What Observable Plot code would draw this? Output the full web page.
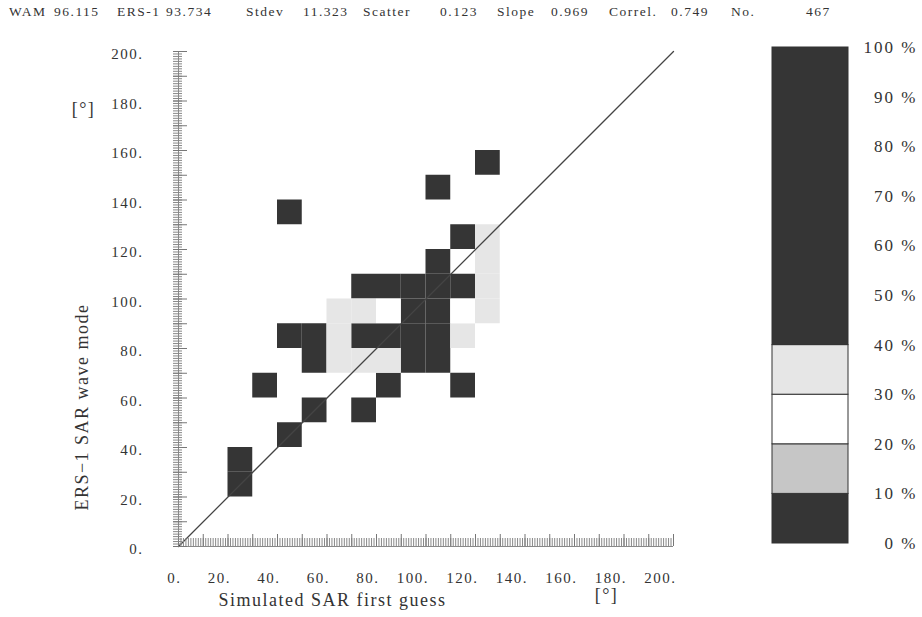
<!DOCTYPE html>
<html>
<head>
<meta charset="utf-8">
<script src="https://cdn.jsdelivr.net/npm/d3@7"></script>
<script src="https://cdn.jsdelivr.net/npm/@observablehq/plot@0.6"></script>
<style>
  body { margin: 0; background: #fff; }
  #fig { position: relative; width: 922px; height: 617px; overflow: hidden; font-family: "Liberation Serif", serif; color: #333; }
  #stats { position: absolute; top: 4px; left: 0; width: 922px; height: 20px; font-size: 13.5px; letter-spacing: 1.5px; }
  #stats span { position: absolute; top: 0; white-space: pre; }
  #main { position: absolute; left: 0; top: 0; }
  #legend { position: absolute; left: 760px; top: 0; }
</style>
</head>
<body>
<div id="fig">
  <div id="main"></div>
  <div id="legend"></div>
  <div id="stats"></div>
</div>
<script>
// Summary statistics printed above the scatter diagram
const statLabels = ["WAM", "ERS-1", "Stdev", "Scatter", "Slope", "Correl.", "No."];
const statValues = ["96.115", "93.734", "11.323", "0.123", "0.969", "0.749", "467"];

// 10°×10° bins: lower-left corner of each bin and its share of the peak count (%)
const cellX   = [20, 20, 40, 50, 30, 40, 50, 50, 70, 80, 110,
                 70, 80, 90, 100, 110, 70, 80, 90, 100, 90, 100, 90, 100, 100,
                 40, 100, 120, 110,
                 60, 60, 60, 70, 70, 80, 110, 120, 120, 120, 120, 80, 110];
const cellY   = [20, 30, 40, 50, 60, 80, 80, 70, 50, 60, 60,
                 100, 100, 100, 100, 100, 80, 80, 70, 70, 80, 80, 90, 90, 110,
                 130, 140, 150, 120,
                 70, 80, 90, 90, 70, 70, 80, 90, 100, 110, 120, 90, 90];
const cellPct = [6, 8, 7, 5, 4, 6, 5, 8, 5, 7, 4,
                 55, 60, 85, 100, 70, 50, 65, 60, 55, 90, 75, 95, 80, 45,
                 3, 4, 3, 5,
                 35, 36, 34, 33, 35, 34, 35, 36, 33, 34, 32, 25, 24];

// Axis tick labels and legend classes
const xTicks = [0, 20, 40, 60, 80, 100, 120, 140, 160, 180, 200];
const yTicks = [0, 20, 40, 60, 80, 100, 120, 140, 160, 180, 200];
const legendTicks = [0, 10, 20, 30, 40, 50, 60, 70, 80, 90, 100];
const legendEdges = [0, 10, 20, 30, 40, 100];
const diagonal = [0, 200];

const binWidth = 10;
const cells = cellX.map((x, i) => ({x, y: cellY[i], pct: cellPct[i]}));
const bands = legendEdges.slice(0, -1).map((lo, i) => ({lo, hi: legendEdges[i + 1]}));

const shade = {
  type: "threshold",
  domain: [10, 20, 30, 40],
  range: ["#353535", "#c6c6c6", "#ffffff", "#e6e6e6", "#353535"]
};

const font = {fontFamily: "'Liberation Serif', serif", fontSize: "15px", color: "#333", background: "transparent", letterSpacing: "1.5px"};

// Header line
const statsDiv = document.getElementById("stats");
const statLeft = [9, 117, 246, 363, 497, 609, 731];
const valueLeft = [54, 166, 303, 440, 551, 671, 806];
statLabels.forEach((s, i) => {
  const a = document.createElement("span");
  a.textContent = s; a.style.left = statLeft[i] + "px";
  const b = document.createElement("span");
  b.textContent = statValues[i]; b.style.left = valueLeft[i] + "px";
  statsDiv.append(a, b);
});

// Scatter diagram
const main = Plot.plot({
  width: 760,
  height: 617,
  marginLeft: 178,
  marginRight: 87,
  marginTop: 51,
  marginBottom: 71,
  x: {domain: [0, 200]},
  y: {domain: [0, 200]},
  color: shade,
  style: font,
  marks: [
    Plot.rect(cells, {x1: "x", x2: d => d.x + binWidth, y1: "y", y2: d => d.y + binWidth, fill: "pct"}),
    Plot.line(diagonal, {x: d => d, y: d => d, stroke: "#444", strokeWidth: 1.3}),
    // ruler-style axes
    Plot.ruleX([0], {stroke: "#888"}),
    Plot.ruleY([0], {stroke: "#888"}),
    Plot.axisX({ticks: 200, tickSize: 8, dy: -8, tickFormat: () => "", stroke: "#888", label: null}),
    Plot.axisX({ticks: 20, tickSize: 12, dy: -12, tickFormat: () => "", stroke: "#777", label: null}),
    Plot.axisY({ticks: 200, tickSize: 9, dx: 4, tickFormat: () => "", stroke: "#888", label: null}),
    Plot.axisY({ticks: 20, tickSize: 14, dx: 9, tickFormat: () => "", stroke: "#777", label: null}),
    // tick labels
    Plot.axisX({ticks: xTicks, tickSize: 0, tickPadding: 26, textAnchor: "end", dx: 3, tickFormat: d => d + ".", label: null}),
    Plot.axisY({ticks: yTicks, tickSize: 0, tickPadding: 35, dy: 3, tickFormat: d => d + ".", label: null}),
    // axis titles
    Plot.text(["Simulated SAR first guess"], {frameAnchor: "bottom-left", textAnchor: "start", dx: 40, dy: 59, fontSize: 18, letterSpacing: "1.8px"}),
    Plot.text(["[°]"], {frameAnchor: "bottom-left", textAnchor: "middle", dx: 428, dy: 54, fontSize: 18}),
    Plot.text(["ERS\u22121 SAR wave mode"], {frameAnchor: "left", textAnchor: "middle", rotate: -90, dx: -96, dy: 108, fontSize: 18, letterSpacing: "1.8px"}),
    Plot.text(["[°]"], {frameAnchor: "top-left", textAnchor: "middle", dx: -95, dy: 51, fontSize: 18})
  ]
});
document.getElementById("main").append(main);

// Shading legend
const legend = Plot.plot({
  width: 162,
  height: 617,
  marginLeft: 12,
  marginRight: 74,
  marginTop: 47,
  marginBottom: 74,
  x: {domain: [0, 1], axis: null},
  y: {domain: [0, 100], axis: null},
  color: shade,
  style: {...font, fontSize: "17px", letterSpacing: "2px"},
  marks: [
    Plot.rect(bands, {x1: 0, x2: 1, y1: "lo", y2: "hi", fill: "lo", stroke: "#333", strokeWidth: 1}),
    Plot.text(legendTicks, {y: d => d, frameAnchor: "right", dx: 69, textAnchor: "end", text: d => d + " %"})
  ]
});
document.getElementById("legend").append(legend);
</script>
</body>
</html>
